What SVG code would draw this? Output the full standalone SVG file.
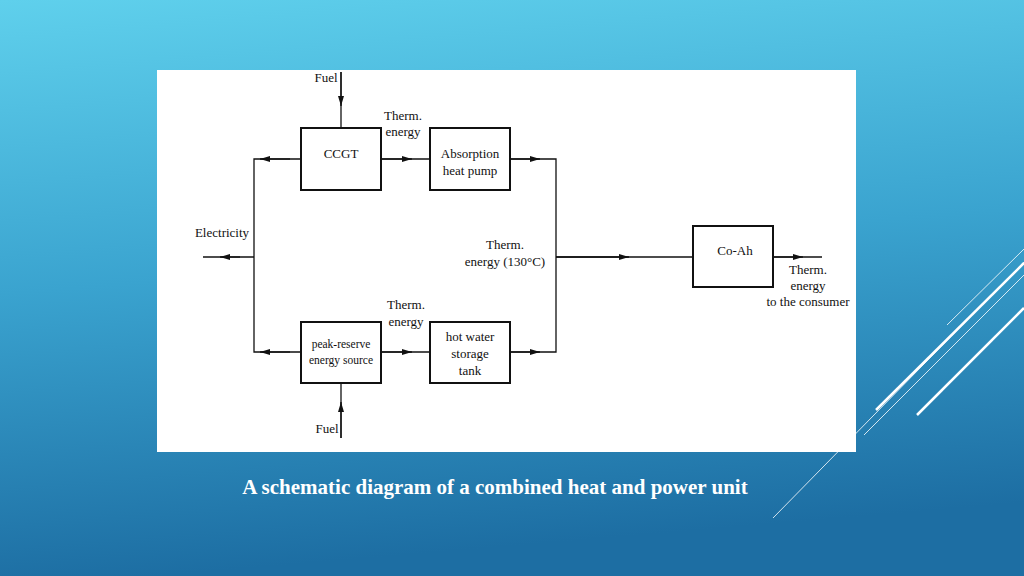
<svg xmlns="http://www.w3.org/2000/svg" width="1024" height="576" viewBox="0 0 1024 576">
<defs>
<linearGradient id="bg" x1="0" y1="0" x2="0.15" y2="1">
<stop offset="0" stop-color="#5fd0ec"/>
<stop offset="0.5" stop-color="#3aa3cf"/>
<stop offset="1" stop-color="#1d6ea3"/>
</linearGradient>
<marker id="ah" viewBox="0 0 10 6" refX="10" refY="3" markerWidth="10" markerHeight="6" markerUnits="userSpaceOnUse" orient="auto"><path d="M0,0 L10,3 L0,6 Z" fill="#111"/></marker>
<style>
.box{fill:#fff;stroke:#111;stroke-width:2}
.ln{fill:none;stroke:#111;stroke-width:1.3}
.t{font-family:"Liberation Serif",serif;font-size:13px;fill:#111;text-anchor:middle}
.deco{stroke:#fff;fill:none}
</style>
</defs>
<rect width="1024" height="576" fill="url(#bg)"/>
<g id="decor">
<line class="deco" x1="773" y1="518" x2="1024" y2="262" stroke-width="1" stroke-opacity="0.8"/>
<line class="deco" x1="864" y1="435" x2="1024" y2="275" stroke-width="1" stroke-opacity="0.8"/>
<line class="deco" x1="947" y1="325" x2="1024" y2="249" stroke-width="1" stroke-opacity="0.8"/>
<line class="deco" x1="876" y1="410" x2="1024" y2="263" stroke-width="2.5"/>
<line class="deco" x1="917" y1="415" x2="1024" y2="308" stroke-width="2.5"/>
</g>
<rect x="157" y="70" width="699" height="382" fill="#fff"/>
<g id="connectors">
<path class="ln" d="M341,72 V128"/><path class="ln" d="M341,72 V106" marker-end="url(#ah)"/>
<path class="ln" d="M341,383 V438"/><path class="ln" d="M341,438 V402" marker-end="url(#ah)"/>
<path class="ln" d="M301,159 H254 V352 H301"/>
<path class="ln" d="M290,159 H260" marker-end="url(#ah)"/>
<path class="ln" d="M290,352 H260" marker-end="url(#ah)"/>
<path class="ln" d="M254,257 H203"/><path class="ln" d="M240,257 H220" marker-end="url(#ah)"/>
<path class="ln" d="M381,159 H430"/><path class="ln" d="M381,159 H412" marker-end="url(#ah)"/>
<path class="ln" d="M381,352 H430"/><path class="ln" d="M381,352 H412" marker-end="url(#ah)"/>
<path class="ln" d="M510,159 H556 V352 H510"/><path class="ln" d="M510,159 H540" marker-end="url(#ah)"/><path class="ln" d="M510,352 H540" marker-end="url(#ah)"/>
<path class="ln" d="M556,257 H693"/><path class="ln" d="M556,257 H629" marker-end="url(#ah)"/>
<path class="ln" d="M773,257 H822"/><path class="ln" d="M773,257 H803" marker-end="url(#ah)"/>
</g>
<g id="ccgt"><rect class="box" x="301" y="128" width="80" height="62"/><text class="t" x="341" y="158">CCGT</text></g>
<g id="ahp"><rect class="box" x="430" y="128" width="80" height="62"/><text class="t" x="470" y="158">Absorption</text><text class="t" x="470" y="175">heat pump</text></g>
<g id="coah"><rect class="box" x="693" y="226" width="80" height="61"/><text class="t" x="735" y="255">Co-Ah</text></g>
<g id="peak"><rect class="box" x="301" y="322" width="80" height="61"/><text class="t" x="341" y="348" style="font-size:11.5px">peak-reserve</text><text class="t" x="341" y="364" style="font-size:11.5px">energy source</text></g>
<g id="tank"><rect class="box" x="430" y="322" width="80" height="61"/><text class="t" x="470" y="341">hot water</text><text class="t" x="470" y="358">storage</text><text class="t" x="470" y="375">tank</text></g>
<g id="labels">
<text class="t" x="326" y="82">Fuel</text>
<text class="t" x="327" y="433">Fuel</text>
<text class="t" x="403" y="120">Therm.</text><text class="t" x="403" y="136">energy</text>
<text class="t" x="406" y="309">Therm.</text><text class="t" x="406" y="326">energy</text>
<text class="t" x="222" y="237">Electricity</text>
<text class="t" x="505" y="249">Therm.</text><text class="t" x="505" y="266">energy (130°C)</text>
<text class="t" x="808" y="274">Therm.</text><text class="t" x="808" y="290">energy</text><text class="t" x="808" y="306">to the consumer</text>
</g>
<text x="495" y="494" style="font-family:'Liberation Serif',serif;font-size:21px;font-weight:bold;fill:#fff;text-anchor:middle">A schematic diagram of a combined heat and power unit</text>
</svg>
